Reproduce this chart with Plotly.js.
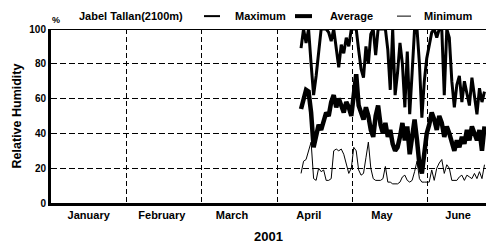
<!DOCTYPE html>
<html>
<head>
<meta charset="utf-8">
<script src="https://cdn.plot.ly/plotly-3.0.1.min.js"></script>
<style>html,body{margin:0;padding:0;overflow:hidden;background:#fff;}</style>
</head>
<body>
<div id="chart" style="width:486px;height:246px;"></div>
<script>
// ---- data ----
const months = ["January", "February", "March", "April", "May", "June"];
const daysInMonth = [31, 28, 31, 30, 31, 30];
const startMonth = 4;   // April
const startDay = 10;    // first observation: 10 April 2001
const yearLabel = "2001";
const stationName = "Jabel Tallan(2100m)";
const seriesNames = ["Maximum", "Average", "Minimum"];

const maximum = [89,100,92,100,80,62,73,88,100,100,100,98,93,100,90,78,91,86,95,90,100,
  100,100,88,77,72,90,80,97,100,85,100,100,100,100,88,65,100,62,75,92,80,55,87,51,75,100,100,80,49,70,83,
  90,98,100,95,100,100,62,100,95,70,55,68,73,58,70,62,56,72,60,51,66,58,64];
const average = [54,60,65,64,52,32,38,45,42,48,52,50,58,62,55,60,56,52,58,55,50,
  62,74,56,52,48,55,50,42,38,50,56,45,40,46,38,42,34,30,32,38,46,36,44,28,40,48,36,22,17,30,40,
  45,52,48,42,50,46,38,44,40,34,30,36,32,38,34,42,36,44,40,36,42,30,44];
const minimum = [17,24,25,30,35,14,13,20,18,19,13,13,14,30,31,30,31,28,22,17,20,
  32,30,19,16,17,26,35,20,14,13,13,13,14,21,12,12,11,11,11,12,15,16,13,12,13,18,24,14,12,12,12,
  12,19,13,20,23,25,17,22,20,13,13,13,15,16,13,16,15,14,17,14,18,14,22];

// x position of each observation on a month-unit axis (each month one unit wide)
function buildX(n) {
  const xs = [];
  let m = startMonth, d = startDay;
  for (let i = 0; i < n; i++) {
    xs.push((m - 1) + (d - 0.5) / daysInMonth[m - 1]);
    d++;
    if (d > daysInMonth[m - 1]) { d = 1; m++; }
  }
  return xs;
}
const xs = buildX(average.length);

const boldFont = {family: "Liberation Sans, Arial, sans-serif", color: "#000", weight: "bold"};
const f = (size) => Object.assign({size: size}, boldFont);

const traces = [
  {x: xs, y: average, name: seriesNames[1], type: "scatter", mode: "lines",
   line: {color: "#000", width: 4.5}},
  {x: xs, y: maximum, name: seriesNames[0], type: "scatter", mode: "lines",
   line: {color: "#000", width: 3}},
  {x: xs, y: minimum, name: seriesNames[2], type: "scatter", mode: "lines",
   line: {color: "#000", width: 1}}
];

const labelNudge = [0, -0.03, -0.1, -0.08, -0.11, -0.1];
const legendY = 1.074;
const px = (p) => (p - 51) / 435;
const layout = {
  width: 486, height: 246,
  margin: {l: 51, r: 0, t: 29, b: 43},
  paper_bgcolor: "#fff", plot_bgcolor: "#fff",
  showlegend: false,
  font: f(10),
  xaxis: {
    range: [0, 5.77], fixedrange: true,
    tickvals: months.map((m, i) => i + 0.5 + labelNudge[i]),
    ticktext: months,
    ticks: "", showgrid: false, zeroline: false,
    showline: true, linecolor: "#000", linewidth: 3,
    tickfont: f(11),
    minor: {tickvals: [1, 2, 3, 4, 5], showgrid: true, gridcolor: "#000",
            gridwidth: 1, griddash: "5px,3px", ticks: ""},
    title: {text: yearLabel, font: f(13), standoff: 12}
  },
  yaxis: {
    range: [0, 100], fixedrange: true,
    tickvals: [0, 20, 40, 60, 80, 100],
    ticks: "", showgrid: true, gridcolor: "#000", gridwidth: 1, griddash: "6px,3px",
    zeroline: false, showline: true, linecolor: "#000", linewidth: 3,
    tickfont: f(10),
    title: {text: "Relative Humidity", font: f(12.5), standoff: 5}
  },
  shapes: [
    {type: "line", xref: "paper", yref: "y", x0: 0, x1: 1, y0: 100, y1: 100,
     line: {color: "#000", width: 2}},
    // legend samples
    {type: "line", xref: "paper", yref: "paper", x0: px(204), x1: px(220),
     y0: legendY, y1: legendY, line: {color: "#000", width: 2}},
    {type: "line", xref: "paper", yref: "paper", x0: px(295), x1: px(312),
     y0: legendY, y1: legendY, line: {color: "#000", width: 4}},
    {type: "line", xref: "paper", yref: "paper", x0: px(397), x1: px(411),
     y0: legendY, y1: legendY, line: {color: "#000", width: 1}}
  ],
  annotations: [
    {text: "%", xref: "paper", yref: "paper", x: -0.002, y: 1.05, xanchor: "left", yanchor: "middle",
     showarrow: false, font: f(9)},
    {text: stationName, xref: "paper", yref: "paper", x: px(77), y: legendY,
     xanchor: "left", yanchor: "middle", showarrow: false, font: f(11)},
    {text: seriesNames[0], xref: "paper", yref: "paper", x: px(233), y: legendY,
     xanchor: "left", yanchor: "middle", showarrow: false, font: f(11)},
    {text: seriesNames[1], xref: "paper", yref: "paper", x: px(328), y: legendY,
     xanchor: "left", yanchor: "middle", showarrow: false, font: f(11)},
    {text: seriesNames[2], xref: "paper", yref: "paper", x: px(422), y: legendY,
     xanchor: "left", yanchor: "middle", showarrow: false, font: f(11)}
  ]
};

Plotly.newPlot("chart", traces, layout, {displayModeBar: false, staticPlot: true});
</script>
</body>
</html>
